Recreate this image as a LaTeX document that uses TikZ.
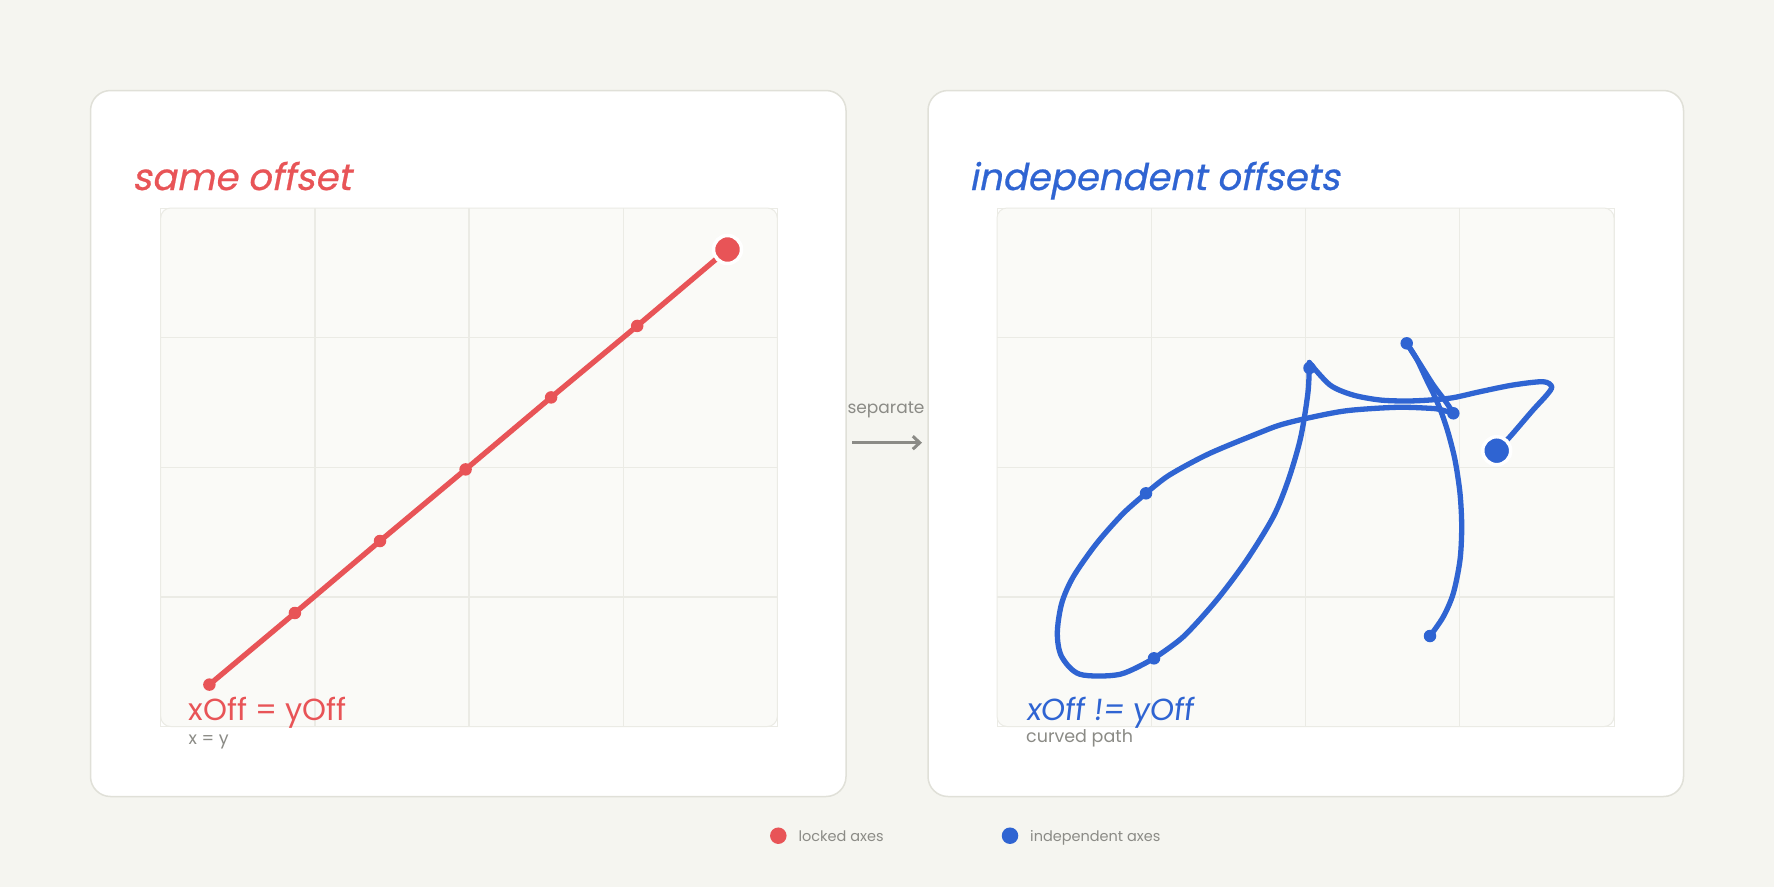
\documentclass[tikz,border=0pt]{standalone}
\usepackage{fontspec}
\setmainfont{Poppins}
\newfontfamily\titlefont[FakeSlant=0.2, FakeBold=0.6]{Poppins}
\newfontfamily\lslfont[FakeSlant=0.12]{Poppins}
\usetikzlibrary{arrows.meta}
\definecolor{bg}{HTML}{F5F5F0}
\definecolor{panelborder}{HTML}{E0E0D8}
\definecolor{plotfill}{HTML}{FAFAF7}
\definecolor{gridc}{HTML}{EBEBE5}
\definecolor{redc}{HTML}{E85457}
\definecolor{bluec}{HTML}{2F64D2}
\definecolor{grayt}{HTML}{8B8B86}
\tikzset{
  panel/.style={fill=white, draw=panelborder, line width=1.5pt, rounded corners=20pt},
  plotbg/.style={fill=plotfill, draw=gridc, line width=1pt, rounded corners=10pt},
  plotframe/.style={draw=gridc, line width=1pt},
  gridline/.style={draw=gridc, line width=1.2pt},
  rdot/.style={circle, fill=redc, inner sep=0pt, minimum size=12.5pt},
  bdot/.style={circle, fill=bluec, inner sep=0pt, minimum size=12.5pt},
  rbig/.style={circle, fill=redc, draw=white, line width=3.5pt, inner sep=0pt, minimum size=28pt},
  bbig/.style={circle, fill=bluec, draw=white, line width=3.5pt, inner sep=0pt, minimum size=28pt},
  legdot/.style={circle, inner sep=0pt, minimum size=16.5pt},
  rline/.style={draw=redc, line width=5.3pt, line cap=round, line join=round},
  bline/.style={draw=bluec, line width=5.3pt, line cap=round, line join=round},
  titletext/.style={anchor=base west, inner sep=0pt, font=\titlefont\fontsize{37}{37}\selectfont},
  labeltext/.style={anchor=base west, inner sep=0pt, font=\fontsize{30.5}{30.5}\selectfont},
  subtext/.style={anchor=base west, inner sep=0pt, text=grayt, font=\fontsize{17.5}{17.5}\selectfont},
  legtext/.style={anchor=base west, inner sep=0pt, text=grayt, font=\fontsize{14.5}{14.5}\selectfont},
}
\begin{document}
\begin{tikzpicture}[x=1pt,y=-1pt]
\useasboundingbox (0,0) rectangle (1774,887);
\fill[bg] (0,0) rectangle (1774,887);

% panels
\draw[panel] (90.5,90.5) rectangle (846,796.5);
\draw[panel] (928,90.5) rectangle (1683.5,796.5);

% plot areas
\draw[plotframe] (160.7,208) rectangle (777.3,726.5);
\draw[plotbg] (160.7,208) rectangle (777.3,726.5);
\foreach \gx in {314.9,469.0,623.2} \draw[gridline] (\gx,208) -- (\gx,726.5);
\foreach \gy in {337.6,467.2,596.9} \draw[gridline] (160.7,\gy) -- (777.3,\gy);

\draw[plotframe] (997,208) rectangle (1614,726.5);
\draw[plotbg] (997,208) rectangle (1614,726.5);
\foreach \gx in {1151.3,1305.5,1459.8} \draw[gridline] (\gx,208) -- (\gx,726.5);
\foreach \gy in {337.6,467.2,596.9} \draw[gridline] (997,\gy) -- (1614,\gy);

% titles
\node[titletext, text=redc] (t1) at (132,190) {same offset};
\node[titletext, text=bluec] (t2) at (969,190) {independent offsets};

% red line
\coordinate (R0) at (209.4,684.6);
\coordinate (R1) at (294.9,613);
\coordinate (R2) at (380,541);
\coordinate (R3) at (465.6,469.4);
\coordinate (R4) at (551.1,397.4);
\coordinate (R5) at (637.2,325.9);
\coordinate (R6) at (727.5,249.5);
\draw[rline] (R0) -- (R1) -- (R2) -- (R3) -- (R4) -- (R5) -- (R6);
\foreach \p in {R0,R1,R2,R3,R4,R5} \node[rdot] at (\p) {};
\node[rbig] (Rend) at (R6) {};

% blue curve
\coordinate (B0) at (1430,636);
\coordinate (B1) at (1406.7,343.3);
\coordinate (B2) at (1453.3,413.3);
\coordinate (B3) at (1146,493.3);
\coordinate (B4) at (1154,658.3);
\coordinate (B5) at (1309.5,368);
\coordinate (B5t) at (1309.3,362.5);
\coordinate (B6) at (1496.7,450.7);

\draw[bline] plot[smooth, tension=0.5] coordinates {(B0) (1443.3,616.7) (1453.3,593.3) (1460,560) (1461.7,526.7) (1460,493.3) (1455,460) (1448.3,433.3) (1441.7,413.3) (1434.5,396) (1426.7,380) (1416.7,359) (B1)};
\draw[bline] plot[smooth, tension=0.5] coordinates {(B1) (1420,364) (1433.3,385) (1446.7,403) (B2)};
\draw[bline] plot[smooth, tension=0.5] coordinates {(B2) (1440,409.5) (1430,408.3) (1396.7,407.3) (1346.7,410.7) (1306.7,418.3) (1280,425) (1258.3,433.2) (1208.6,453.9) (1168.8,475.4) (B3)};
\draw[bline] plot[smooth, tension=0.5] coordinates {(B3) (1123.3,513.3) (1096.7,543.3) (1073.3,576.7) (1061.7,603.3) (1057.3,633.3) (1061.7,656.7) (1080,674.3) (1120,674.3) (B4)};
\draw[bline] plot[smooth, tension=0.5] coordinates {(B4) (1183.3,636.7) (1216.7,600) (1246.7,560) (1273.3,516.7) (1288.3,480) (1300.6,437.8) (1308,392) (B5t)};
\draw[bline] plot[smooth, tension=0.5] coordinates {(B5t) (1330,385) (1353,395) (1380,400) (1406.7,401) (1430,400) (1453,397.7) (1480,391.7) (1513,385) (1543,381.7) (1551.7,386.7) (1546.7,395) (1533,410) (1510,436.7) (B6)};
\foreach \p in {B0,B1,B2,B3,B4,B5} \node[bdot] at (\p) {};
\node[bbig] (Bend) at (B6) {};

% plot labels
\node[labeltext, text=redc] (l1) at (188.3,720) {xOff = yOff};
\node[subtext] (s1) at (188.3,744) {x = y};
\node[labeltext, text=bluec, font=\lslfont\fontsize{30.5}{30.5}\selectfont] (l2) at (1026,720) {xOff != yOff};
\node[subtext] (s2) at (1026,742) {curved path};

% separate arrow
\node[anchor=base, inner sep=0pt, text=grayt, font=\fontsize{17}{17}\selectfont] (sep) at (886,413.3) {separate};
\coordinate (aS) at (852,442.7);
\coordinate (aE) at (922,442.7);
\draw[draw=grayt, line width=3pt, -{Straight Barb[length=7pt,width=13pt,line width=3pt]}] (aS) -- (aE);

% legend
\node[legdot, fill=redc] (ld1) at (778.3,835.7) {};
\node[legtext] (lt1) at (798.3,841.5) {locked axes};
\node[legdot, fill=bluec] (ld2) at (1010,835.7) {};
\node[legtext] (lt2) at (1030,841.5) {independent axes};
\end{tikzpicture}
\end{document}
